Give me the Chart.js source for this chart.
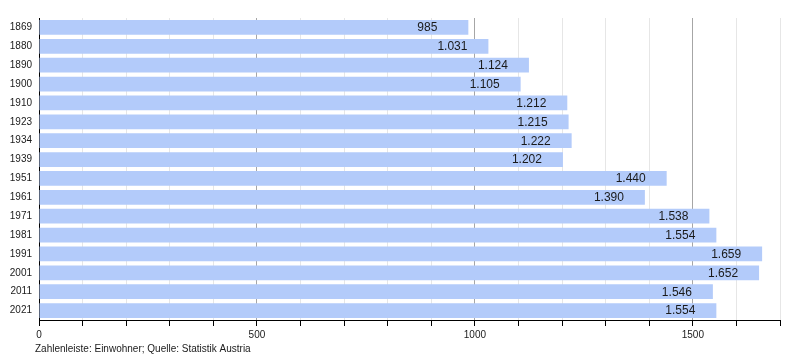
<!DOCTYPE html>
<html><head><meta charset="utf-8">
<script src="https://cdn.jsdelivr.net/npm/chart.js@4/dist/chart.umd.min.js"></script>
<style>html,body{margin:0;padding:0;background:#fff}#wrap{width:800px;height:360px;position:relative}</style>
</head><body><div id="wrap"><canvas id="c" width="800" height="360"></canvas></div>
<script>
const years = ["1869","1880","1890","1900","1910","1923","1934","1939","1951","1961","1971","1981","1991","2001","2011","2021"];
const population = [985,1031,1124,1105,1212,1215,1222,1202,1440,1390,1538,1554,1659,1652,1546,1554];
const xTickLabels = ["0","500","1000","1500"];
const footerText = "Zahlenleiste: Einwohner; Quelle: Statistik Austria";

const FONT = "'Liberation Sans', Arial, sans-serif";
const fmt = v => v.toLocaleString('de-DE');

const valueLabels = {
  id: 'valueLabels',
  afterDatasetsDraw(chart) {
    const ctx = chart.ctx;
    const meta = chart.getDatasetMeta(0);
    ctx.save();
    ctx.font = "12px " + FONT;
    ctx.fillStyle = "#1a1a1a";
    ctx.textAlign = "left";
    ctx.textBaseline = "middle";
    meta.data.forEach((bar, i) => {
      ctx.fillText(fmt(population[i]), bar.x - 51, bar.y + 0.5);
    });
    ctx.restore();
  }
};
const footer = {
  id: 'footer',
  afterDraw(chart) {
    const ctx = chart.ctx;
    ctx.save();
    ctx.font = "10px " + FONT;
    ctx.fillStyle = "#1a1a1a";
    ctx.textAlign = "left";
    ctx.textBaseline = "middle";
    ctx.fillText(footerText, 35, 349.5);
    ctx.restore();
  }
};

new Chart(document.getElementById('c'), {
  type: 'bar',
  data: {
    labels: years,
    datasets: [{
      data: population,
      backgroundColor: '#b3cbfa',
      borderWidth: 0,
      categoryPercentage: 1.0,
      barPercentage: 0.78
    }]
  },
  options: {
    indexAxis: 'y',
    responsive: false,
    animation: false,
    layout: { padding: { left: 0, right: 20, top: 18, bottom: 0 } },
    plugins: { legend: { display: false }, tooltip: { enabled: false } },
    scales: {
      x: {
        min: 0, max: 1700,
        ticks: {
          stepSize: 100, autoSkip: false, maxRotation: 0,
          color: '#1a1a1a', font: { family: FONT, size: 10 }, padding: 3,
          callback: (v) => { const s = String(v); return xTickLabels.includes(s) ? s : ''; }
        },
        grid: {
          color: (c) => (c.tick && c.tick.value % 500 === 0) ? '#a6a6a6' : '#e6e6e6',
          tickColor: '#000', tickLength: 6, lineWidth: 1
        },
        border: { color: '#000', width: 1 },
        afterFit: (s) => { s.height = 40; }
      },
      y: {
        ticks: { color: '#1a1a1a', font: { family: FONT, size: 10 }, padding: 7 },
        grid: { display: false, drawTicks: false },
        border: { color: '#000', width: 1 },
        afterFit: (s) => { s.width = 39; }
      }
    }
  },
  plugins: [valueLabels, footer]
});
</script></body></html>
